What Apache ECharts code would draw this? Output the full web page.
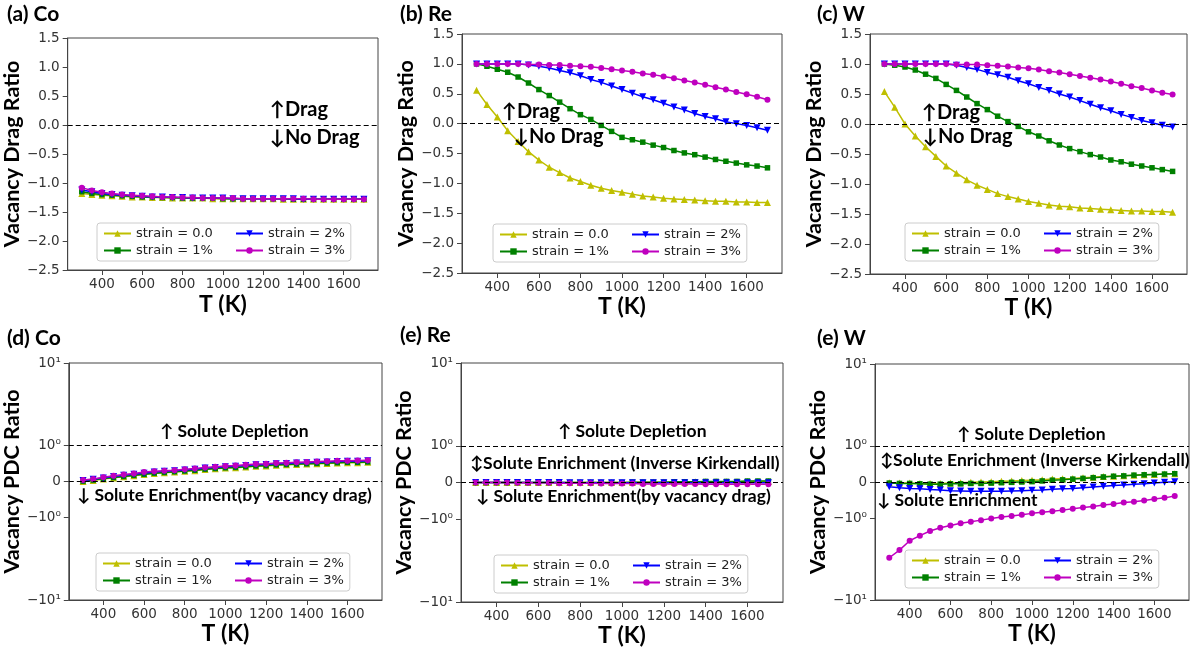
<!DOCTYPE html>
<html><head><meta charset="utf-8">
<script src="https://cdn.jsdelivr.net/npm/echarts@6/dist/echarts.min.js"></script>
<style>html,body{margin:0;padding:0;background:#fff}#c{width:1196px;height:649px}</style>
</head><body><div id="c"></div>
<script>
// ---------------- DATA ----------------
const temperatures = [300,350,400,450,500,550,600,650,700,750,800,850,900,950,1000,1050,1100,1150,1200,1250,1300,1350,1400,1450,1500,1550,1600,1650,1700];
const strainLabels = ['strain = 0.0','strain = 1%','strain = 2%','strain = 3%'];
const tempTicks = [400,600,800,1000,1200,1400,1600];
const dragTicks = [-2.5,-2.0,-1.5,-1.0,-0.5,0.0,0.5,1.0,1.5];
const pdcTicks = [-10,-1,0,1,10];
const pdcTickLabels = ['\u221210\u00b9','\u221210\u2070','0','10\u2070','10\u00b9'];

// (a) Co – vacancy drag ratio
const dragCo_s0 = [-1.18,-1.20,-1.21,-1.22,-1.23,-1.24,-1.24,-1.25,-1.25,-1.26,-1.26,-1.26,-1.26,-1.27,-1.27,-1.27,-1.27,-1.27,-1.27,-1.27,-1.28,-1.28,-1.28,-1.28,-1.28,-1.28,-1.28,-1.28,-1.28];
const dragCo_s1 = [-1.15,-1.18,-1.20,-1.21,-1.22,-1.23,-1.24,-1.24,-1.25,-1.25,-1.26,-1.26,-1.26,-1.26,-1.27,-1.27,-1.27,-1.27,-1.27,-1.27,-1.27,-1.28,-1.28,-1.28,-1.28,-1.28,-1.28,-1.28,-1.28];
const dragCo_s2 = [-1.12,-1.15,-1.18,-1.20,-1.21,-1.22,-1.23,-1.24,-1.24,-1.25,-1.25,-1.26,-1.26,-1.26,-1.26,-1.27,-1.27,-1.27,-1.27,-1.27,-1.27,-1.27,-1.28,-1.28,-1.28,-1.28,-1.28,-1.28,-1.28];
const dragCo_s3 = [-1.08,-1.13,-1.16,-1.18,-1.20,-1.21,-1.22,-1.23,-1.24,-1.24,-1.25,-1.25,-1.26,-1.26,-1.26,-1.26,-1.27,-1.27,-1.27,-1.27,-1.27,-1.27,-1.27,-1.28,-1.28,-1.28,-1.28,-1.28,-1.28];
// (b) Re – vacancy drag ratio
const dragRe_s0 = [0.56,0.32,0.11,-0.12,-0.30,-0.47,-0.61,-0.73,-0.82,-0.91,-0.97,-1.03,-1.08,-1.12,-1.15,-1.18,-1.21,-1.23,-1.25,-1.26,-1.27,-1.28,-1.29,-1.30,-1.30,-1.31,-1.31,-1.32,-1.32];
const dragRe_s1 = [1.00,0.96,0.91,0.86,0.78,0.68,0.57,0.47,0.36,0.25,0.15,0.07,-0.03,-0.13,-0.23,-0.27,-0.31,-0.36,-0.40,-0.45,-0.49,-0.52,-0.56,-0.60,-0.63,-0.66,-0.69,-0.71,-0.74];
const dragRe_s2 = [1.00,1.00,1.00,1.00,1.00,0.98,0.96,0.93,0.89,0.85,0.80,0.74,0.69,0.63,0.57,0.51,0.45,0.40,0.34,0.28,0.23,0.17,0.12,0.08,0.03,0.00,-0.03,-0.07,-0.11];
const dragRe_s3 = [1.00,1.00,1.00,1.00,1.00,0.99,0.99,0.98,0.98,0.97,0.96,0.95,0.93,0.91,0.89,0.87,0.84,0.82,0.79,0.76,0.72,0.69,0.65,0.61,0.57,0.53,0.49,0.45,0.40];
// (c) W – vacancy drag ratio
const dragW_s0 = [0.54,0.28,0.00,-0.20,-0.38,-0.54,-0.70,-0.82,-0.93,-1.02,-1.09,-1.16,-1.21,-1.25,-1.29,-1.32,-1.35,-1.37,-1.38,-1.40,-1.41,-1.42,-1.43,-1.44,-1.45,-1.45,-1.46,-1.46,-1.47];
const dragW_s1 = [1.00,0.98,0.95,0.90,0.83,0.76,0.66,0.56,0.45,0.34,0.24,0.13,0.04,-0.04,-0.13,-0.20,-0.28,-0.35,-0.41,-0.46,-0.51,-0.55,-0.60,-0.63,-0.67,-0.70,-0.73,-0.76,-0.79];
const dragW_s2 = [1.00,1.00,1.00,1.00,1.00,1.00,1.00,0.98,0.94,0.91,0.86,0.82,0.78,0.72,0.67,0.61,0.56,0.50,0.45,0.39,0.33,0.27,0.22,0.16,0.11,0.06,0.02,-0.02,-0.05];
const dragW_s3 = [1.00,1.00,1.00,1.00,1.00,1.00,1.00,0.99,0.99,0.99,0.98,0.97,0.96,0.94,0.93,0.91,0.88,0.86,0.83,0.80,0.77,0.74,0.71,0.67,0.63,0.60,0.56,0.52,0.49];
// (d) Co – vacancy PDC ratio
const pdcCo_s0 = [0.00,0.03,0.07,0.10,0.13,0.16,0.19,0.22,0.24,0.26,0.28,0.30,0.33,0.35,0.37,0.38,0.40,0.42,0.43,0.45,0.46,0.47,0.48,0.49,0.50,0.51,0.52,0.52,0.53];
const pdcCo_s1 = [0.01,0.04,0.08,0.11,0.14,0.17,0.20,0.23,0.25,0.27,0.29,0.31,0.34,0.36,0.38,0.39,0.41,0.43,0.44,0.46,0.47,0.48,0.49,0.50,0.51,0.52,0.53,0.53,0.54];
const pdcCo_s2 = [0.03,0.06,0.10,0.14,0.17,0.20,0.23,0.26,0.28,0.30,0.32,0.34,0.37,0.39,0.41,0.42,0.44,0.46,0.47,0.49,0.50,0.51,0.52,0.53,0.54,0.55,0.56,0.56,0.57];
const pdcCo_s3 = [0.04,0.07,0.12,0.16,0.19,0.22,0.26,0.28,0.30,0.31,0.34,0.36,0.39,0.41,0.43,0.44,0.46,0.48,0.49,0.51,0.52,0.53,0.54,0.55,0.56,0.57,0.57,0.58,0.59];
// (e) Re – vacancy PDC ratio
const pdcRe_s0 = [0.00,0.00,0.00,0.00,0.00,0.00,0.00,0.00,0.00,0.00,0.00,0.00,0.00,0.00,0.00,0.00,0.01,0.01,0.01,0.01,0.01,0.02,0.02,0.02,0.02,0.02,0.03,0.03,0.03];
const pdcRe_s1 = [0.00,0.00,0.00,0.00,0.00,0.00,0.00,0.00,0.00,0.00,0.00,0.00,0.00,0.00,0.00,0.01,0.01,0.01,0.01,0.02,0.02,0.02,0.03,0.03,0.03,0.03,0.04,0.04,0.04];
const pdcRe_s2 = [0.00,0.00,0.00,0.00,0.00,0.00,0.00,0.00,0.00,-0.01,-0.01,-0.01,-0.01,-0.01,-0.01,-0.01,-0.01,-0.01,-0.01,-0.01,-0.01,-0.01,-0.01,-0.01,-0.01,-0.01,-0.01,-0.01,-0.01];
const pdcRe_s3 = [0.00,0.00,0.00,0.00,-0.01,-0.01,-0.01,-0.01,-0.02,-0.02,-0.02,-0.02,-0.03,-0.03,-0.03,-0.03,-0.04,-0.04,-0.04,-0.04,-0.04,-0.04,-0.05,-0.05,-0.05,-0.05,-0.05,-0.05,-0.05];
// (e) W – vacancy PDC ratio
const pdcW_s0 = [-0.02,-0.03,-0.03,-0.04,-0.04,-0.04,-0.03,-0.02,-0.01,0.00,0.01,0.02,0.03,0.04,0.05,0.06,0.08,0.09,0.10,0.12,0.13,0.15,0.16,0.17,0.19,0.20,0.21,0.22,0.23];
const pdcW_s1 = [-0.03,-0.04,-0.04,-0.05,-0.06,-0.06,-0.05,-0.05,-0.04,-0.04,-0.03,-0.02,-0.01,0.00,0.01,0.03,0.05,0.06,0.08,0.10,0.12,0.14,0.16,0.17,0.19,0.20,0.21,0.22,0.23];
const pdcW_s2 = [-0.13,-0.16,-0.18,-0.19,-0.21,-0.22,-0.24,-0.25,-0.26,-0.26,-0.26,-0.26,-0.25,-0.24,-0.23,-0.22,-0.20,-0.19,-0.18,-0.16,-0.14,-0.12,-0.10,-0.08,-0.06,-0.05,-0.03,-0.01,0.01];
const pdcW_s3 = [-3.05,-2.46,-1.89,-1.64,-1.44,-1.31,-1.23,-1.16,-1.11,-1.06,-1.01,-0.97,-0.94,-0.91,-0.87,-0.84,-0.81,-0.78,-0.74,-0.71,-0.68,-0.64,-0.61,-0.57,-0.55,-0.51,-0.47,-0.44,-0.39];

// ---------------- STYLE / LAYOUT ----------------
const colors = ['#bfbf00','#008000','#0000ff','#bf00bf'];
const symbols = ['triangle','rect','path://M0,0L10,0L5,9Z','circle'];
const symbolSizes = [7,5.5,7,6];
const TICK_FONT = '"DejaVu Sans", sans-serif';
const BOLD_FONT = 'Lato, "Open Sans", sans-serif';
const LIN = 0.44; // symlog: size of linear part [0,1] relative to one decade
function symlog(v){ const a = Math.abs(v); return a <= 1 ? v * LIN : Math.sign(v) * (LIN + Math.log10(a)); }

const panels = [
  {kind:'drag', grid:{left:66,top:38,width:312,height:232}, yGap:34, xGap:23, leg:{left:97,top:223},
   title:['(a) Co',7,14], series:[dragCo_s0,dragCo_s1,dragCo_s2,dragCo_s3], noteSize:20,
   notes:[['\u2191Drag',270,110],['\u2193No Drag',270,138]]},
  {kind:'drag', grid:{left:462,top:34,width:320,height:239}, yGap:33, xGap:18, leg:{left:493,top:224},
   title:['(b) Re',400,14], series:[dragRe_s0,dragRe_s1,dragRe_s2,dragRe_s3], noteSize:20,
   notes:[['\u2191Drag',502,112],['\u2193No Drag',514,137]]},
  {kind:'drag', grid:{left:870,top:34,width:317,height:240}, yGap:32, xGap:13, leg:{left:905,top:223},
   title:['(c) W',817,14], series:[dragW_s0,dragW_s1,dragW_s2,dragW_s3], noteSize:20,
   notes:[['\u2191Drag',922,113],['\u2193No Drag',923,137]]},
  {kind:'pdc', grid:{left:66,top:363,width:316,height:237}, yGap:32, xGap:11, leg:{left:96,top:553},
   title:['(d) Co',7,338], series:[pdcCo_s0,pdcCo_s1,pdcCo_s2,pdcCo_s3], noteSize:17.5,
   notes:[['\u2191 Solute Depletion',160,431],['\u2193 Solute Enrichment(by vacancy drag)',77,495]]},
  {kind:'pdc', grid:{left:461,top:363,width:322,height:239}, yGap:32, xGap:15, leg:{left:494,top:555},
   title:['(e) Re',400,335], series:[pdcRe_s0,pdcRe_s1,pdcRe_s2,pdcRe_s3], noteSize:17.5,
   notes:[['\u2191 Solute Depletion',558,431],['\u2195Solute Enrichment (Inverse Kirkendall)',470,463],['\u2193 Solute Enrichment(by vacancy drag)',476,496]]},
  {kind:'pdc', grid:{left:875,top:364,width:314,height:236}, yGap:37, xGap:9, leg:{left:905,top:550},
   title:['(e) W',817,338], series:[pdcW_s0,pdcW_s1,pdcW_s2,pdcW_s3], noteSize:17.5,
   notes:[['\u2191 Solute Depletion',957,434],['\u2195Solute Enrichment (Inverse Kirkendall)',880,460],['\u2193 Solute Enrichment',877,500]]}
];

const grids = [], xAxes = [], yAxes = [], seriesList = [], legends = [], graphics = [];
const fmtDrag = v => (Math.round(v*10)/10).toFixed(1).replace('-', '\u2212');
const pdcPos = pdcTicks.map(symlog);
const fmtPdc = v => { for (let i=0;i<pdcPos.length;i++) if (Math.abs(pdcPos[i]-v) < 1e-6) return pdcTickLabels[i]; return ''; };
const legendRich = {
  c1:{width:95, fontFamily:TICK_FONT, fontSize:13, color:'#222', lineHeight:14},
  c2:{width:72, fontFamily:TICK_FONT, fontSize:13, color:'#222', lineHeight:14}
};

panels.forEach((p, pi) => {
  grids.push(Object.assign({show:true, borderColor:'#444', borderWidth:1, backgroundColor:'transparent', containLabel:false}, p.grid));
  xAxes.push({
    type:'value', gridIndex:pi, min:230, max:1770,
    name:'T (K)', nameLocation:'middle', nameGap:p.xGap,
    nameTextStyle:{fontFamily:BOLD_FONT, fontWeight:'bold', fontSize:23, color:'#000'},
    axisLine:{show:true, onZero:false, lineStyle:{color:'#444'}},
    axisTick:{show:true, length:5, customValues:tempTicks, lineStyle:{color:'#444'}},
    axisLabel:{customValues:tempTicks, formatter:v => String(v), fontFamily:TICK_FONT, fontSize:13.5, color:'#333', margin:7},
    splitLine:{show:false}
  });
  const isDrag = p.kind === 'drag';
  yAxes.push({
    type:'value', gridIndex:pi,
    min: isDrag ? -2.5 : symlog(-10), max: isDrag ? 1.5 : symlog(10),
    name: isDrag ? 'Vacancy Drag Ratio' : 'Vacancy PDC Ratio', nameLocation:'middle', nameGap:p.yGap,
    nameTextStyle:{fontFamily:BOLD_FONT, fontWeight:'bold', fontSize:21.5, color:'#000'},
    axisLine:{show:true, onZero:false, lineStyle:{color:'#444'}},
    axisTick:{show:true, length:5, customValues: isDrag ? dragTicks : pdcPos, lineStyle:{color:'#444'}},
    axisLabel:{customValues: isDrag ? dragTicks : pdcPos, formatter: isDrag ? fmtDrag : fmtPdc,
      fontFamily:TICK_FONT, fontSize:13.5, color:'#333', margin:8},
    splitLine:{show:false}
  });
  p.series.forEach((vals, si) => {
    const s = {
      type:'line', name:strainLabels[si], xAxisIndex:pi, yAxisIndex:pi,
      data: temperatures.map((t,i) => [t, isDrag ? vals[i] : symlog(vals[i])]),
      symbol:symbols[si], symbolSize:symbolSizes[si], showSymbol:true,
      itemStyle:{color:colors[si]}, lineStyle:{color:colors[si], width:1.5},
      animation:false, z:3
    };
    if (si === 0) {
      s.markLine = {silent:true, symbol:['none','none'], label:{show:false}, animation:false,
        lineStyle:{color:'#000', type:[5,3], width:1.2},
        data: isDrag ? [{yAxis:0}] : [{yAxis:symlog(1)}, {yAxis:0}]};
    }
    seriesList.push(s);
  });
  legends.push({
    orient:'vertical', left:p.leg.left, top:p.leg.top, height:32, itemGap:4,
    itemWidth:27, itemHeight:8, padding:[4,6], selectedMode:false,
    borderColor:'#ccc', borderWidth:1, borderRadius:3, backgroundColor:'rgba(255,255,255,0.8)',
    textStyle:{fontFamily:TICK_FONT, fontSize:13, color:'#222', rich:legendRich},
    formatter: name => (name === strainLabels[0] || name === strainLabels[1]) ? '{c1|' + name + '}' : '{c2|' + name + '}',
    data: strainLabels.slice()
  });
  graphics.push({type:'text', x:p.title[1], y:p.title[2],
    style:{text:p.title[0], fontFamily:BOLD_FONT, fontWeight:'bold', fontSize:21, fill:'#000', verticalAlign:'middle', align:'left'}});
  p.notes.forEach(n => graphics.push({type:'text', x:n[1], y:n[2], z:10,
    style:{text:n[0], fontFamily:BOLD_FONT, fontWeight:'bold', fontSize:p.noteSize, fill:'#000', verticalAlign:'middle', align:'left'}}));
});

const chart = echarts.init(document.getElementById('c'), null, {renderer:'canvas'});
chart.setOption({
  animation:false, backgroundColor:'#fff',
  grid:grids, xAxis:xAxes, yAxis:yAxes, series:seriesList, legend:legends, graphic:graphics
});
</script></body></html>
